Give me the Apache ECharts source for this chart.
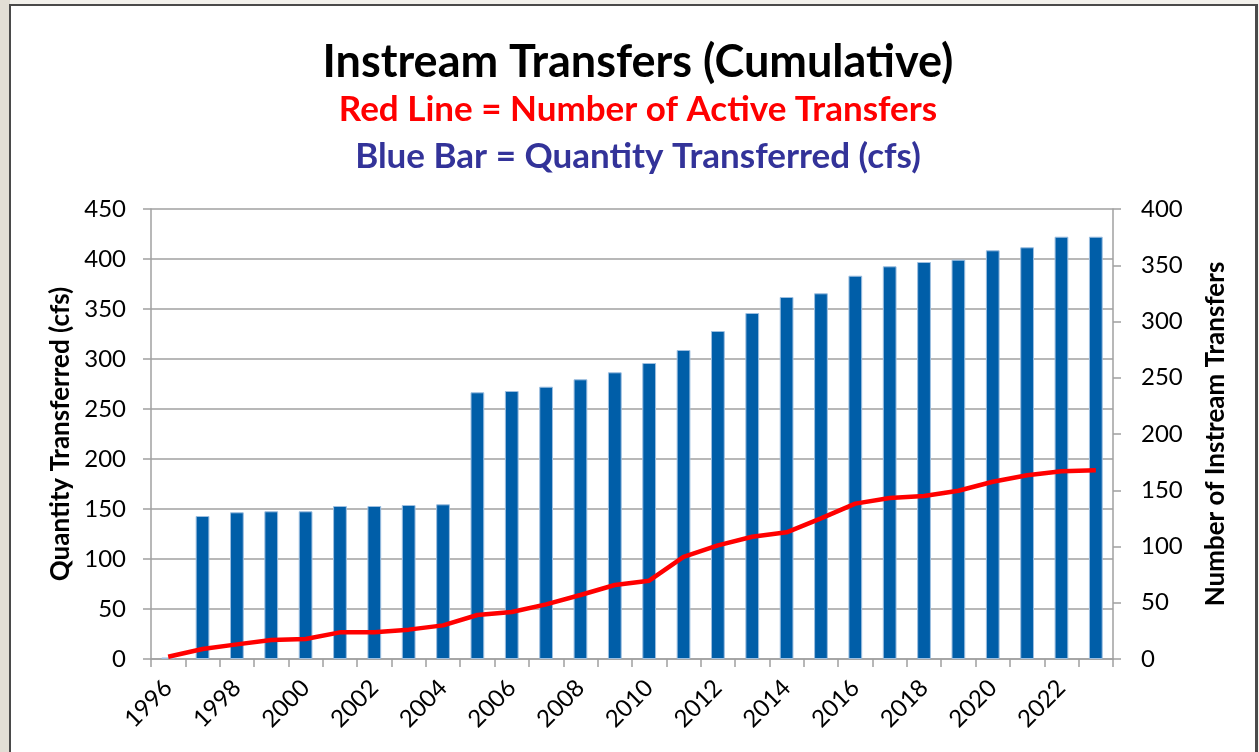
<!DOCTYPE html>
<html>
<head>
<meta charset="utf-8">
<script src="https://cdn.jsdelivr.net/npm/echarts@6/dist/echarts.min.js"></script>
<style>
  html, body { margin: 0; padding: 0; width: 1259px; height: 752px; overflow: hidden; background: #f3f1ec; }
  #strip { position: absolute; left: 0; top: 0; width: 10px; height: 752px; background: #e2ded5; }
  #frame { position: absolute; left: 9px; top: 4px; width: 1244px; height: 800px; background: #ffffff;
           border-left: 2px solid #4a4a4a; border-top: 2px solid #4a4a4a; border-right: 3px solid #4a4a4a; }
  #chart { position: absolute; left: 0; top: 0; width: 1259px; height: 752px; }
</style>
</head>
<body>
<div id="strip"></div>
<div id="frame"></div>
<div id="chart"></div>
<script>
const years = ['1996','1997','1998','1999','2000','2001','2002','2003','2004','2005','2006','2007','2008','2009',
               '2010','2011','2012','2013','2014','2015','2016','2017','2018','2019','2020','2021','2022','2023'];
const quantityCfs = [1.5, 143, 146.7, 147.7, 147.7, 153, 153, 154, 154.7, 266.7, 268, 272.3, 279.7, 286.7,
                     296, 309, 328, 346, 362, 365.7, 383.3, 392.7, 397, 399.3, 408.7, 411.7, 422.3, 422.3];
const activeTransfers = [2, 8.9, 13, 16.9, 17.8, 23.7, 23.7, 26.1, 29.9, 39.1, 41.8, 48.6, 56.9, 65.8,
                         69.6, 90.7, 101, 108.7, 112.6, 125, 138.1, 143.1, 144.9, 149.6, 157.6, 163.3, 166.8, 167.7];
const leftTicks = { min: 0, max: 450, interval: 50 };
const rightTicks = { min: 0, max: 400, interval: 50 };
const titleText = 'Instream Transfers (Cumulative)';
const subRed = 'Red Line = Number of Active Transfers';
const subBlue = 'Blue Bar = Quantity Transferred (cfs)';

const FONT = 'Lato, "Open Sans", sans-serif';
const gridColor = '#a0a0a0';

const chart = echarts.init(document.getElementById('chart'), null, { renderer: 'canvas' });
chart.setOption({
  backgroundColor: 'transparent',
  animation: false,
  graphic: [
    { type: 'text', x: 638, y: 62, style: { text: titleText, fill: '#000', font: 'bold 45px ' + FONT, textAlign: 'center', textVerticalAlign: 'middle' } },
    { type: 'text', x: 638, y: 110, style: { text: subRed, fill: '#ff0000', font: 'bold 35px ' + FONT, textAlign: 'center', textVerticalAlign: 'middle' } },
    { type: 'text', x: 638, y: 157, style: { text: subBlue, fill: '#333399', font: 'bold 35px ' + FONT, textAlign: 'center', textVerticalAlign: 'middle' } }
  ],
  grid: { left: 151, right: 146, top: 209, bottom: 93, containLabel: false },
  xAxis: {
    type: 'category',
    data: years,
    boundaryGap: true,
    axisLine: { lineStyle: { color: gridColor, width: 1.5 } },
    axisTick: { show: true, interval: 0, length: 8, lineStyle: { color: gridColor, width: 1.5 } },
    axisLabel: { interval: 1, rotate: 45, margin: 25, color: '#000', fontSize: 24, fontFamily: FONT }
  },
  yAxis: [
    {
      type: 'value', min: leftTicks.min, max: leftTicks.max, interval: leftTicks.interval,
      name: 'Quantity Transferred (cfs)', nameLocation: 'middle', nameGap: 72, nameRotate: 90,
      nameTextStyle: { color: '#000', fontSize: 26, fontWeight: 'bold', fontFamily: FONT },
      axisLine: { show: true, lineStyle: { color: gridColor, width: 1.5 } },
      axisTick: { show: true, length: 8, lineStyle: { color: gridColor, width: 1.5 } },
      axisLabel: { margin: 25, color: '#000', fontSize: 24, fontFamily: FONT },
      splitLine: { show: true, lineStyle: { color: gridColor, width: 1.5 } }
    },
    {
      type: 'value', min: rightTicks.min, max: rightTicks.max, interval: rightTicks.interval,
      position: 'right',
      name: 'Number of Instream Transfers', nameLocation: 'middle', nameGap: 90, nameRotate: 90,
      nameTextStyle: { color: '#000', fontSize: 26, fontWeight: 'bold', fontFamily: FONT },
      axisLine: { show: true, lineStyle: { color: gridColor, width: 1.5 } },
      axisTick: { show: true, length: 8, lineStyle: { color: gridColor, width: 1.5 } },
      axisLabel: { margin: 28, color: '#000', fontSize: 24, fontFamily: FONT },
      splitLine: { show: false }
    }
  ],
  series: [
    {
      type: 'bar', yAxisIndex: 0, data: quantityCfs, barWidth: '40%',
      itemStyle: { color: '#005ea8', borderColor: '#9dbfe0', borderWidth: 1 }
    },
    {
      type: 'line', yAxisIndex: 1, data: activeTransfers, showSymbol: false, symbol: 'none',
      lineStyle: { color: '#ff0000', width: 4.5 }, z: 5
    }
  ]
});
</script>
</body>
</html>
